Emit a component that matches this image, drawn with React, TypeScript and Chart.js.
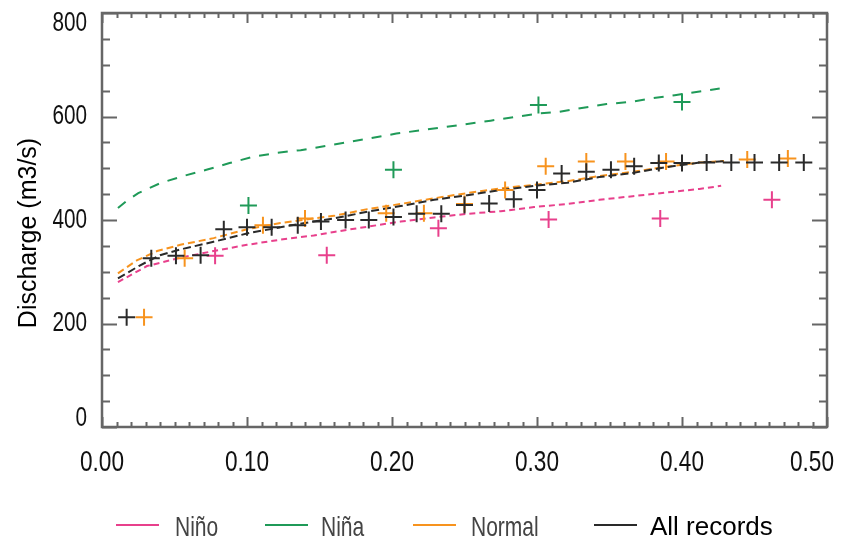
import React, { useEffect, useRef } from "react";
import { Chart, registerables } from "chart.js";

Chart.register(...registerables);

const W = 847;
const H = 539;

// Observed discharges (m3/s) against probability, by ENSO phase
const allRecordsX = [0.017, 0.034, 0.051, 0.068, 0.084, 0.100, 0.117, 0.135, 0.151, 0.168, 0.184, 0.201, 0.217, 0.234, 0.250, 0.267, 0.284, 0.300, 0.317, 0.334, 0.351, 0.367, 0.384, 0.400, 0.417, 0.434, 0.450, 0.467, 0.484];
const allRecordsY = [212, 326, 331, 332, 382, 386, 386, 390, 397, 400, 400, 406, 412, 412, 429, 432, 440, 458, 490, 493, 497, 504, 510, 510, 511, 511, 511, 511, 511];

const normalX = [0.029, 0.057, 0.111, 0.140, 0.196, 0.222, 0.250, 0.278, 0.306, 0.334, 0.361, 0.389, 0.445, 0.473];
const normalY = [212, 326, 390, 403, 413, 413, 431, 458, 504, 513, 513, 513, 517, 519];

const ninoX = [0.078, 0.155, 0.232, 0.308, 0.385, 0.462];
const ninoY = [331, 332, 384, 401, 403, 439];

const ninaX = [0.101, 0.201, 0.301, 0.400];
const ninaY = [428, 497, 622, 628];

// Fitted frequency curves
const allFitX = [0.011, 0.026, 0.040, 0.054, 0.077, 0.100, 0.123, 0.146, 0.160, 0.183, 0.206, 0.229, 0.252, 0.275, 0.298, 0.321, 0.343, 0.366, 0.389, 0.412, 0.431];
const allFitY = [287, 312, 332, 343, 358, 374, 386, 397, 403, 416, 427, 439, 448, 458, 466, 472, 483, 491, 502, 511, 514];

const normalFitX = [0.011, 0.024, 0.038, 0.054, 0.077, 0.100, 0.123, 0.146, 0.160, 0.183, 0.206, 0.229, 0.252, 0.275, 0.298, 0.321, 0.343, 0.366, 0.389, 0.412, 0.429];
const normalFitY = [297, 322, 340, 352, 365, 382, 394, 403, 408, 421, 431, 442, 452, 461, 468, 475, 485, 493, 503, 511, 514];

const ninoFitX = [0.011, 0.031, 0.054, 0.077, 0.100, 0.123, 0.146, 0.160, 0.183, 0.206, 0.229, 0.252, 0.275, 0.298, 0.321, 0.343, 0.366, 0.389, 0.412, 0.427];
const ninoFitY = [280, 311, 327, 340, 352, 362, 370, 377, 387, 397, 405, 412, 417, 425, 431, 439, 446, 453, 460, 466];

const ninaFitX = [0.011, 0.017, 0.025, 0.040, 0.056, 0.072, 0.088, 0.104, 0.121, 0.137, 0.154, 0.171, 0.203, 0.235, 0.268, 0.302, 0.315, 0.332, 0.348, 0.364, 0.379, 0.395, 0.411, 0.426];
const ninaFitY = [423, 437, 452, 471, 485, 497, 510, 522, 530, 535, 543, 551, 567, 579, 592, 606, 609, 617, 624, 628, 635, 641, 648, 654];

// Axis ticks
const xTickValues = [0, 0.1, 0.2, 0.3, 0.4, 0.5];
const xTickLabels = ["0.00", "0.10", "0.20", "0.30", "0.40", "0.50"];
const yTickValues = [0, 200, 400, 600, 800];
const yTickLabels = ["0", "200", "400", "600", "800"];
const xMinorStep = 0.01;
const yMinorStep = 50;

const legendItems = [
  { label: "Niño", color: "#e8408c" },
  { label: "Niña", color: "#1f9a58" },
  { label: "Normal", color: "#f7931e" },
  { label: "All records", color: "#2a2a2a" },
];

const COLORS = {
  all: "#2a2a2a",
  normal: "#f7931e",
  nino: "#e8408c",
  nina: "#1f9a58",
};

const AXIS = "#666666";
const SANS = "'Liberation Sans', Arial, sans-serif";

const pts = (xs: number[], ys: number[]) => xs.map((x, i) => ({ x, y: ys[i] }));

// Condensed text: a regular face squeezed horizontally
function narrowText(
  ctx: CanvasRenderingContext2D,
  text: string,
  x: number,
  y: number,
  size: number,
  align: CanvasTextAlign,
  sx: number,
  color: string,
  baseline: CanvasTextBaseline = "middle"
) {
  ctx.save();
  ctx.translate(x, y);
  ctx.scale(sx, 1);
  ctx.font = `${size}px ${SANS}`;
  ctx.fillStyle = color;
  ctx.textAlign = align;
  ctx.textBaseline = baseline;
  ctx.fillText(text, 0, 0);
  ctx.restore();
}

const framePlugin = {
  id: "frameAndLabels",
  beforeDatasetsDraw(chart: any) {
    const { ctx, chartArea: a, scales } = chart;
    const xs = scales.x;
    const ys = scales.y;
    ctx.save();
    ctx.strokeStyle = AXIS;
    ctx.lineWidth = 2;
    ctx.beginPath();
    // y ticks, pointing inward on both sides
    for (let v = 0; v <= 800 + 1e-9; v += yMinorStep) {
      const py = Math.round(ys.getPixelForValue(v)) + 0.5;
      const len = v % 200 === 0 ? 15 : 8;
      ctx.moveTo(a.left, py);
      ctx.lineTo(a.left + len, py);
      ctx.moveTo(a.right, py);
      ctx.lineTo(a.right - len, py);
    }
    // x ticks, pointing inward on top and bottom
    for (let i = 0; i <= 50; i++) {
      const v = i * xMinorStep;
      const px = Math.round(xs.getPixelForValue(v)) + 0.5;
      const len = i % 10 === 0 ? 10 : 5;
      ctx.moveTo(px, a.bottom);
      ctx.lineTo(px, a.bottom - len);
      ctx.moveTo(px, a.top);
      ctx.lineTo(px, a.top + len);
    }
    ctx.stroke();
    ctx.lineWidth = 2.5;
    ctx.strokeRect(a.left, a.top, a.right - a.left, a.bottom - a.top);
    ctx.restore();
  },
  afterDraw(chart: any) {
    const { ctx, chartArea: a, scales } = chart;
    const xs = scales.x;
    const ys = scales.y;

    // y tick labels (end labels kept inside the frame height)
    yTickValues.forEach((v, i) => {
      let py = ys.getPixelForValue(v);
      py = Math.min(Math.max(py, a.top + 10), a.bottom - 9);
      narrowText(ctx, yTickLabels[i], 87, py, 28, "right", 0.74, "#111");
    });

    // x tick labels
    xTickValues.forEach((v, i) => {
      let px = xs.getPixelForValue(v);
      px = Math.min(px, W - 35);
      narrowText(ctx, xTickLabels[i], px, 463, 29, "center", 0.78, "#111");
    });

    // y axis title
    ctx.save();
    ctx.translate(29, 233);
    ctx.rotate(-Math.PI / 2);
    ctx.font = `25px ${SANS}`;
    ctx.fillStyle = "#000";
    ctx.textAlign = "center";
    ctx.textBaseline = "middle";
    ctx.fillText("Discharge (m3/s)", 0, 0);
    ctx.restore();

    // legend
    const lineX = [116, 265, 413, 594];
    const textX = [175, 321, 471, 650];
    legendItems.forEach((item, i) => {
      ctx.save();
      ctx.strokeStyle = item.color;
      ctx.lineWidth = 2;
      ctx.beginPath();
      ctx.moveTo(lineX[i], 525);
      ctx.lineTo(lineX[i] + 43, 525);
      ctx.stroke();
      ctx.restore();
      if (i < 3) {
        narrowText(ctx, item.label, textX[i], 536, 28, "left", 0.75, "#444", "alphabetic");
      } else {
        ctx.save();
        ctx.font = `26px ${SANS}`;
        ctx.fillStyle = "#000";
        ctx.textAlign = "left";
        ctx.textBaseline = "alphabetic";
        ctx.fillText(item.label, textX[i], 535);
        ctx.restore();
      }
    });
  },
};

const crossSet = (label: string, xs: number[], ys: number[], color: string) => ({
  type: "scatter" as const,
  label,
  data: pts(xs, ys),
  showLine: false,
  pointStyle: "cross",
  pointRadius: 8.5,
  pointBorderWidth: 2,
  borderColor: color,
  backgroundColor: color,
});

const curveSet = (label: string, xs: number[], ys: number[], color: string, dash: number[]) => ({
  type: "line" as const,
  label,
  data: pts(xs, ys),
  showLine: true,
  pointRadius: 0,
  borderWidth: 2,
  borderColor: color,
  borderDash: dash,
  tension: 0,
  fill: false,
});

export default function App() {
  const ref = useRef<HTMLCanvasElement | null>(null);

  useEffect(() => {
    if (!ref.current) return;
    const chart = new Chart(ref.current, {
      type: "scatter",
      data: {
        datasets: [
          crossSet("All records", allRecordsX, allRecordsY, COLORS.all),
          crossSet("Niño", ninoX, ninoY, COLORS.nino),
          crossSet("Niña", ninaX, ninaY, COLORS.nina),
          crossSet("Normal", normalX, normalY, COLORS.normal),
          curveSet("All records fit", allFitX, allFitY, COLORS.all, [8, 4]),
          curveSet("Normal fit", normalFitX, normalFitY, COLORS.normal, [7, 4]),
          curveSet("Niño fit", ninoFitX, ninoFitY, COLORS.nino, [6, 4]),
          curveSet("Niña fit", ninaFitX, ninaFitY, COLORS.nina, [10, 9]),
        ] as any,
      },
      options: {
        animation: false,
        responsive: false,
        devicePixelRatio: 1,
        layout: { padding: { left: 102, right: 20, top: 13, bottom: 112 } },
        scales: {
          x: { type: "linear", min: 0, max: 0.5, display: false },
          y: { type: "linear", min: 0, max: 800, display: false },
        },
        plugins: {
          legend: { display: false },
          tooltip: { enabled: false },
        },
        events: [],
      },
      plugins: [framePlugin],
    });
    return () => chart.destroy();
  }, []);

  return (
    <div style={{ position: "fixed", left: 0, top: 0, width: W, height: H, background: "#fff" }}>
      <canvas ref={ref} width={W} height={H} style={{ width: W, height: H, display: "block" }} />
    </div>
  );
}
